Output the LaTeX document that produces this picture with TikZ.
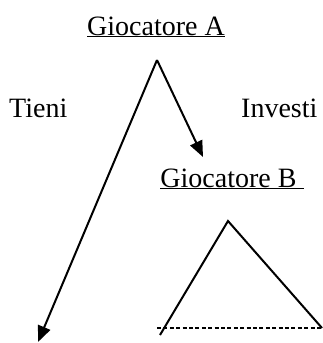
\documentclass[tikz,border=0pt]{standalone}
\usepackage{fontspec}
\setmainfont{Liberation Serif}
\usepackage{tikz}
\usetikzlibrary{arrows.meta,positioning}
\tikzset{
  player/.style={inner sep=0pt,anchor=base,font=\fontsize{28}{33}\selectfont},
  move/.style={inner sep=0pt,anchor=base west,font=\fontsize{28}{33}\selectfont},
  branch/.style={line width=2pt,line join=miter},
  arrow/.style={-{Triangle[length=16pt,width=13pt]},line width=2pt},
  payoff/.style={line width=2pt,dash pattern=on 4pt off 2.4pt}
}

\begin{document}
\begin{tikzpicture}[x=1pt,y=-1pt]
\useasboundingbox (0,0) rectangle (323,343);
\node[player] (pA) at (156,35) {\underline{Giocatore A}};
\node[player] (pB) at (232,187) {\underline{Giocatore B\ }};
\node[move] (tieni) at (9,117) {Tieni};
\node[move] (investi) at (241,117) {Investi};
\coordinate (rootA) at (157,60);
\coordinate (endT) at (38,342);
\coordinate (endI) at (203,157);
\coordinate (rootB) at (228,221);
\coordinate (leftB) at (160,335);
\coordinate (rightB) at (322,328);
\draw[arrow] (rootA)--(endT); \draw[arrow] (rootA)--(endI);
\draw[branch] (leftB)--(rootB)--(rightB);
\draw[payoff] (157,328)--(rightB);
\end{tikzpicture}
\end{document}
